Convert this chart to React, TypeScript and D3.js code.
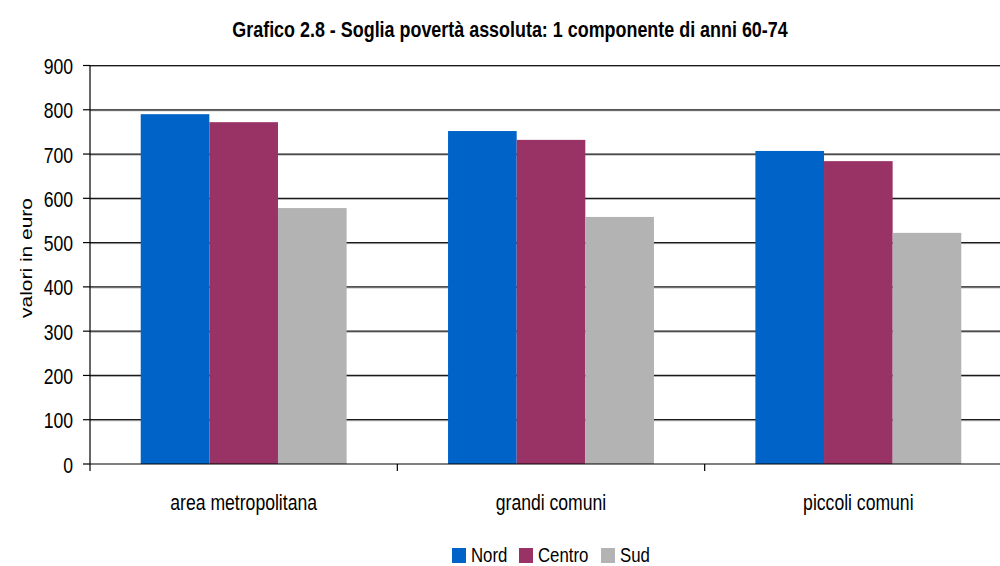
import React from "react";
import * as d3 from "d3";

const categories = ["area metropolitana", "grandi comuni", "piccoli comuni"];
const seriesNames = ["Nord", "Centro", "Sud"];
const nord = [790, 752, 707];
const centro = [772, 732, 684];
const sud = [578, 558, 522];
const yTicks = [0, 100, 200, 300, 400, 500, 600, 700, 800, 900];
const colors = ["#0063C8", "#993366", "#B3B3B3"];

const W = 1000;
const H = 566;
const left = 90;
const right = 1012;
const top = 65.5;
const bottom = 464;
const FONT = "'Liberation Sans', Arial, sans-serif";

type NTProps = {
  x: number;
  y: number;
  size: number;
  anchor?: "start" | "middle" | "end";
  bold?: boolean;
  sx?: number;
  children: React.ReactNode;
};

function NText({ x, y, size, anchor = "start", bold = false, sx = 0.8, children }: NTProps) {
  return (
    <text
      transform={`translate(${x},${y}) scale(${sx},1)`}
      textAnchor={anchor}
      fontSize={size}
      fontWeight={bold ? "bold" : "normal"}
      fill="#000"
    >
      {children}
    </text>
  );
}

export default function App() {
  const series = [nord, centro, sud];
  const x0 = d3.scaleBand<string>().domain(categories).range([left, right]).paddingInner(0.33).paddingOuter(0.165);
  const x1 = d3.scaleBand<string>().domain(seriesNames).range([0, x0.bandwidth()]);
  const y = d3.scaleLinear().domain([0, 900]).range([bottom, top]);
  const step = (right - left) / categories.length;
  const legendX = [452, 519, 601];

  return (
    <svg width={W} height={H} style={{ position: "absolute", left: 0, top: 0, background: "#fff" }} fontFamily={FONT}>
      <NText x={510} y={37} size={22} anchor="middle" bold sx={0.815}>
        Grafico 2.8 - Soglia povertà assoluta: 1 componente di anni 60-74
      </NText>
      {yTicks.map((t) => (
        <g key={t}>
          {t > 0 && <line x1={left} x2={W} y1={y(t) + 1} y2={y(t) + 1} stroke="#aaa" strokeWidth={1} />}
          {t > 0 && <line x1={left} x2={W} y1={y(t)} y2={y(t)} stroke="#1a1a1a" strokeWidth={1.2} />}
          <line x1={left - 7} x2={left} y1={y(t)} y2={y(t)} stroke="#000" strokeWidth={1.2} />
          <NText x={73} y={y(t) + 8.5} size={22} anchor="end">{t}</NText>
        </g>
      ))}
      {categories.map((c, i) => (
        <g key={c}>
          {series.map((s, j) => (
            <rect
              key={j}
              x={(x0(c) as number) + (x1(seriesNames[j]) as number)}
              y={y(s[i])}
              width={x1.bandwidth()}
              height={y(0) - y(s[i])}
              fill={colors[j]}
            />
          ))}
          <NText x={(x0(c) as number) + x0.bandwidth() / 2} y={510} size={22} anchor="middle">{c}</NText>
        </g>
      ))}
      <line x1={left} x2={W} y1={bottom} y2={bottom} stroke="#000" strokeWidth={1.2} />
      <line x1={left} x2={left} y1={top} y2={bottom} stroke="#000" strokeWidth={1.2} />
      {[0, 1, 2].map((k) => (
        <line key={k} x1={left + k * step} x2={left + k * step} y1={bottom} y2={bottom + 7} stroke="#000" strokeWidth={1.2} />
      ))}
      <text
        transform={`translate(32,258) rotate(-90)`}
        textAnchor="middle"
        fontSize={17}
        fill="#000"
        textLength={120}
        lengthAdjust="spacingAndGlyphs"
      >
        valori in euro
      </text>
      {seriesNames.map((n, j) => (
        <g key={n}>
          <rect x={legendX[j]} y={548} width={14} height={15} fill={colors[j]} />
          <NText x={legendX[j] + 19} y={562} size={21}>{n}</NText>
        </g>
      ))}
    </svg>
  );
}
